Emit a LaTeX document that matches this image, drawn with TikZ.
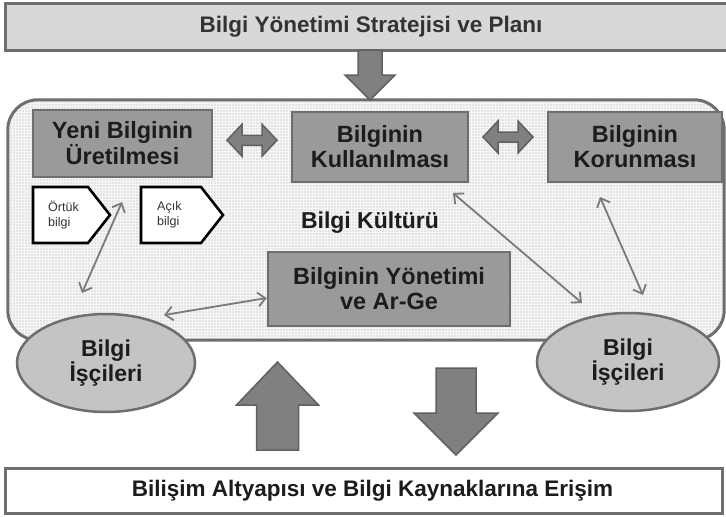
\documentclass[tikz,border=0pt]{standalone}
\usepackage{fontspec}
\setmainfont{Liberation Sans}
\usetikzlibrary{arrows.meta,patterns,calc,shapes.geometric}

\definecolor{edgegray}{HTML}{6E6E6E}
\definecolor{boxfill}{HTML}{9A9A9A}
\definecolor{bannerfill}{HTML}{D8D8D8}
\definecolor{panelfill}{HTML}{E4E4E4}
\definecolor{ovalfill}{HTML}{C4C4C4}
\definecolor{blockfill}{HTML}{808080}
\definecolor{blockedge}{HTML}{606060}
\definecolor{thinline}{HTML}{7A7A7A}
\definecolor{inktext}{HTML}{1C1C1C}
\definecolor{softtext}{HTML}{333333}

\tikzset{
  banner/.style={draw=edgegray, line width=3pt, fill=bannerfill, inner sep=0pt},
  bannertext/.style={font=\bfseries\fontsize{22.5}{24}\selectfont, text=softtext, inner sep=0pt},
  panel/.style={fill=panelfill, rounded corners=30pt, inner sep=0pt},
  paneledge/.style={draw=edgegray, line width=3pt, rounded corners=30pt},
  stagebox/.style={draw=edgegray, line width=2.5pt, fill=boxfill, inner sep=0pt, align=center,
    font=\bfseries\fontsize{23.5}{25}\selectfont, text=inktext},
  oval/.style={ellipse, draw=edgegray, line width=2.5pt, fill=ovalfill, inner sep=0pt, align=center,
    font=\bfseries\fontsize{23}{25.5}\selectfont, text=inktext},
  tacit/.style={draw=black, line width=2.6pt, fill=white, line join=miter},
  smalltext/.style={font=\fontsize{12.5}{15}\selectfont, text=softtext, align=left, inner sep=0pt},
  culturetext/.style={font=\bfseries\fontsize{23}{24}\selectfont, text=inktext, inner sep=0pt},
  blockarrow/.style={draw=blockedge, line width=1.5pt, fill=blockfill, line join=miter},
  thinarrow/.style={draw=thinline, line width=1.8pt,
    arrows={Straight Barb[length=7.5pt,width=14pt]-Straight Barb[length=7.5pt,width=14pt]}},
  % vertical block arrow, tip at the origin, pointing along +y
  pics/blockdown/.style args={#1/#2/#3/#4}{code={
    \draw[blockarrow] (0,0) -- (#2,-#4) -- (#1,-#4) -- (#1,-#3) -- (-#1,-#3)
      -- (-#1,-#4) -- (-#2,-#4) -- cycle;}},
  % horizontal two-headed block arrow centred on the origin
  pics/blockboth/.style args={#1/#2/#3/#4}{code={
    \draw[blockarrow] (-#3,0) -- (-#3+#4,-#2) -- (-#3+#4,-#1) -- (#3-#4,-#1) -- (#3-#4,-#2)
      -- (#3,0) -- (#3-#4,#2) -- (#3-#4,#1) -- (-#3+#4,#1) -- (-#3+#4,#2) -- cycle;}},
}

\begin{document}
\begin{tikzpicture}[x=1pt,y=-1pt]
\useasboundingbox (0,0) rectangle (726,517);
\fill[white] (0,0) rectangle (726,517);

% strategy banner and the drop into the culture panel
\node[banner, minimum width=732pt, minimum height=47pt] (strategy) at (371,26.5) {};
\node[bannertext] (strategytext) at (strategy.center) {Bilgi Yönetimi Stratejisi ve Planı};

% culture panel: flat fill, fine grid texture, then its outline
\node[panel, minimum width=716pt, minimum height=240pt] (culture) at (366,220) {};
\path[pattern=grid, pattern color=white!65!panelfill, rounded corners=30pt]
  (culture.north west) rectangle (culture.south east);
\draw[paneledge] (culture.north west) rectangle (culture.south east);

\coordinate (droptip) at (370,100);
\pic at (droptip) {blockdown=12/25/50/25};

% the three stages
\node[stagebox, minimum width=179pt, minimum height=67pt] (create) at (122.5,143.5)
  {Yeni Bilginin\\Üretilmesi};
\node[stagebox, minimum width=176pt, minimum height=70pt] (use) at (380,147)
  {Bilginin\\Kullanılması};
\node[stagebox, minimum width=174pt, minimum height=70pt] (protect) at (635,147)
  {Bilginin\\Korunması};
\node[stagebox, minimum width=242pt, minimum height=74pt] (manage) at (389,289)
  {Bilginin Yönetimi\\ve Ar-Ge};

\pic at ($(create.east)!0.5!(use.west)+(0,-5)$) {blockboth=5/16/25/15};
\pic at ($(use.east)!0.5!(protect.west)+(0,-10)$) {blockboth=5/16/25/15};

% tacit and explicit knowledge tags
\draw[tacit] (33,187) -- (88,187) -- (110,215) -- (88,243) -- (33,243) -- cycle;
\node[smalltext, anchor=west] (tacittext) at (48,215) {Örtük\\bilgi};
\draw[tacit] (141,187) -- (201,187) -- (223,215) -- (201,243) -- (141,243) -- cycle;
\node[smalltext, anchor=west] (explicittext) at (157,215) {Açık\\bilgi};

\node[culturetext] (culturelabel) at (370,223) {Bilgi Kültürü};

% knowledge workers
\node[oval, minimum width=178pt, minimum height=98pt] (workersL) at (106,363) {Bilgi\\İşçileri};
\node[oval, minimum width=182pt, minimum height=98pt] (workersR) at (628,362) {Bilgi\\İşçileri};

% thin two-way links
\coordinate (c1) at (122,202);
\coordinate (w1) at (82,293);
\coordinate (m1) at ($(manage.west)+(0,9)$);
\coordinate (w2) at (164,315);
\coordinate (u1) at (453,193);
\coordinate (w3) at (582,303);
\coordinate (p1) at (600,197);
\coordinate (w4) at (643,295);
\draw[thinarrow] (c1) -- (w1);
\draw[thinarrow] (m1) -- (w2);
\draw[thinarrow] (u1) -- (w3);
\draw[thinarrow] (p1) -- (w4);

% infrastructure banner and the exchange with it
\node[banner, fill=white, minimum width=717pt, minimum height=45pt] (infra) at (363.5,490.5) {};
\node[bannertext, text=inktext] (infratext) at ($(infra.center)+(9,0)$)
  {Bilişim Altyapısı ve Bilgi Kaynaklarına Erişim};

\pic[rotate=180] at (277.5,362) {blockdown=21/41/88/43};
\pic at (456,455) {blockdown=20/42/87/42};
\end{tikzpicture}
\end{document}
